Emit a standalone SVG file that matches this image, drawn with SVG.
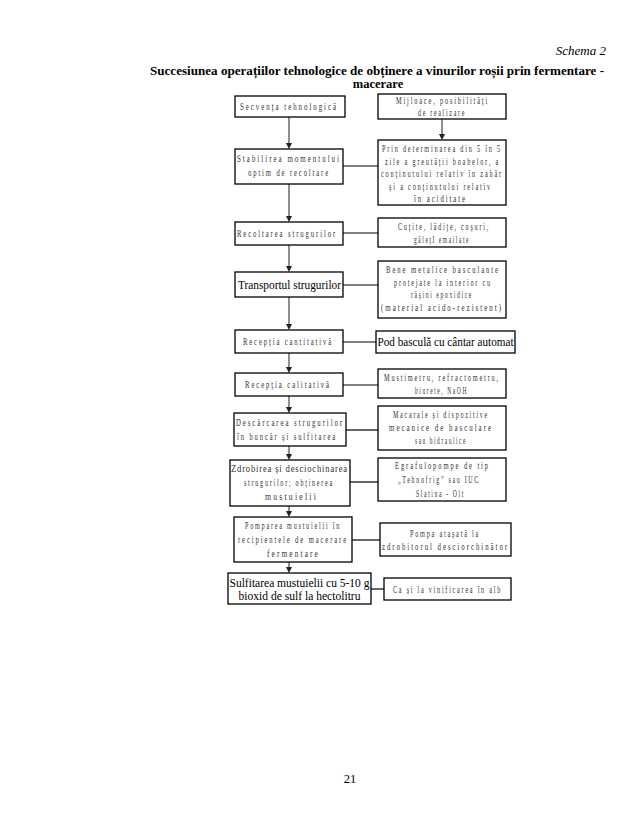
<svg xmlns="http://www.w3.org/2000/svg" width="638" height="826" viewBox="0 0 638 826">
<style>
.bg{fill:#fff}
.box{fill:#fff;stroke:#000;stroke-width:1.3}
.sp{font-family:"Liberation Serif","Times New Roman",serif;font-size:10.5px;letter-spacing:3px;fill:#333}
.sp1{letter-spacing:1px}
.nm{font-family:"Liberation Serif","Times New Roman",serif;font-size:12.5px;fill:#000}
.ttl{font-family:"Liberation Serif","Times New Roman",serif;font-size:12.5px;font-weight:bold;fill:#000}
.it{font-family:"Liberation Serif","Times New Roman",serif;font-size:13px;font-style:italic;fill:#000}
.ln{stroke:#000;stroke-width:1.2;fill:none}
.vl{stroke:#444;stroke-width:1.2;fill:none}
.ah{fill:#222}
</style>
<rect class="bg" x="0" y="0" width="638" height="826"/>

<text class="it" x="606" y="55" text-anchor="end">Schema 2</text>
<text class="ttl" x="150" y="75" textLength="454" lengthAdjust="spacingAndGlyphs">Succesiunea operațiilor tehnologice de obținere a vinurilor roșii prin fermentare -</text>
<text class="ttl" x="378" y="88" text-anchor="middle">macerare</text>

<g id="connectors">
<line class="vl" x1="289" y1="117" x2="289" y2="143"/>
<line class="vl" x1="289" y1="184" x2="289" y2="216"/>
<line class="vl" x1="289" y1="245" x2="289" y2="266"/>
<line class="vl" x1="289" y1="297" x2="289" y2="324"/>
<line class="vl" x1="289" y1="353" x2="289" y2="367"/>
<line class="vl" x1="289" y1="396" x2="289" y2="407"/>
<line class="vl" x1="289" y1="446" x2="289" y2="454"/>
<line class="vl" x1="289" y1="506" x2="289" y2="511"/>
<line class="vl" x1="289" y1="562" x2="289" y2="567"/>
<line class="vl" x1="442" y1="119" x2="442" y2="134"/>
<path class="ah" d="M286,143 L292,143 L289,149 Z"/>
<path class="ah" d="M286,216 L292,216 L289,222 Z"/>
<path class="ah" d="M286,266 L292,266 L289,272 Z"/>
<path class="ah" d="M286,324 L292,324 L289,330 Z"/>
<path class="ah" d="M286,367 L292,367 L289,373 Z"/>
<path class="ah" d="M286,407 L292,407 L289,413 Z"/>
<path class="ah" d="M286,454 L292,454 L289,460 Z"/>
<path class="ah" d="M286,511 L292,511 L289,517 Z"/>
<path class="ah" d="M286,567 L292,567 L289,573 Z"/>
<path class="ah" d="M439,134 L445,134 L442,140 Z"/>
<line class="ln" x1="343" y1="166" x2="378" y2="166"/>
<line class="ln" x1="343" y1="233" x2="378" y2="233"/>
<line class="ln" x1="343" y1="285" x2="378" y2="285"/>
<line class="ln" x1="343" y1="342" x2="376" y2="342"/>
<line class="ln" x1="343" y1="385" x2="378" y2="385"/>
<line class="ln" x1="346" y1="430" x2="378" y2="430"/>
<line class="ln" x1="350" y1="482" x2="378" y2="482"/>
<line class="ln" x1="352" y1="540" x2="380" y2="540"/>
<line class="ln" x1="371" y1="589" x2="384" y2="589"/>
</g>

<g id="n-secventa">
<rect class="box" x="235" y="96" width="110" height="21"/>
<text class="sp" x="240" y="110" textLength="98" lengthAdjust="spacingAndGlyphs">Secvența tehnologică</text>
</g>
<g id="n-stabilirea">
<rect class="box" x="235" y="149" width="108" height="35"/>
<text class="sp" x="237" y="162" textLength="104" lengthAdjust="spacingAndGlyphs">Stabilirea momentului</text>
<text class="sp" x="248" y="176" textLength="82" lengthAdjust="spacingAndGlyphs">optim de recoltare</text>
</g>
<g id="n-recoltarea">
<rect class="box" x="235" y="222" width="108" height="23"/>
<text class="sp" x="237" y="237" textLength="100" lengthAdjust="spacingAndGlyphs">Recoltarea strugurilor</text>
</g>
<g id="n-transportul">
<rect class="box" x="235" y="272" width="108" height="25"/>
<text class="nm" x="238" y="289" textLength="103" lengthAdjust="spacingAndGlyphs">Transportul strugurilor</text>
</g>
<g id="n-receptia-cant">
<rect class="box" x="235" y="330" width="108" height="23"/>
<text class="sp" x="243" y="345" textLength="90" lengthAdjust="spacingAndGlyphs">Recepția cantitativă</text>
</g>
<g id="n-receptia-cal">
<rect class="box" x="235" y="373" width="108" height="23"/>
<text class="sp" x="245" y="388" textLength="86" lengthAdjust="spacingAndGlyphs">Recepția calitativă</text>
</g>
<g id="n-descarcarea">
<rect class="box" x="234" y="413" width="112" height="33"/>
<text class="sp" x="236" y="426" textLength="108" lengthAdjust="spacingAndGlyphs">Descărcarea strugurilor</text>
<text class="sp" x="237" y="440" textLength="100" lengthAdjust="spacingAndGlyphs">în buncăr și sulfitarea</text>
</g>
<g id="n-zdrobirea">
<rect class="box" x="230" y="460" width="120" height="46"/>
<text class="sp sp1" x="231" y="472" textLength="117" lengthAdjust="spacingAndGlyphs">Zdrobirea și desciochinarea</text>
<text class="sp" x="244" y="486" textLength="90" lengthAdjust="spacingAndGlyphs">strugurilor; obținerea</text>
<text class="sp" x="265" y="500" textLength="53" lengthAdjust="spacingAndGlyphs">mustuielii</text>
</g>
<g id="n-pomparea">
<rect class="box" x="234" y="517" width="118" height="45"/>
<text class="sp" x="245" y="529" textLength="96" lengthAdjust="spacingAndGlyphs">Pomparea mustuielii în</text>
<text class="sp" x="238" y="543" textLength="110" lengthAdjust="spacingAndGlyphs">recipientele de macerare</text>
<text class="sp" x="267" y="557" textLength="53" lengthAdjust="spacingAndGlyphs">fermentare</text>
</g>
<g id="n-sulfitarea">
<rect class="box" x="228" y="573" width="143" height="31"/>
<text class="nm" x="229.5" y="587" textLength="140" lengthAdjust="spacingAndGlyphs">Sulfitarea mustuielii cu 5-10 g</text>
<text class="nm" x="238.5" y="600" textLength="122" lengthAdjust="spacingAndGlyphs">bioxid de sulf la hectolitru</text>
</g>

<g id="m-mijloace">
<rect class="box" x="378" y="94" width="128" height="25"/>
<text class="sp" x="396" y="104" textLength="93" lengthAdjust="spacingAndGlyphs">Mijloace, posibilități</text>
<text class="sp" x="418" y="116" textLength="48" lengthAdjust="spacingAndGlyphs">de realizare</text>
</g>
<g id="m-prin">
<rect class="box" x="378" y="140" width="128" height="65"/>
<text class="sp" x="382" y="152" textLength="120" lengthAdjust="spacingAndGlyphs">Prin determinarea din 5 în 5</text>
<text class="sp" x="385" y="165" textLength="115" lengthAdjust="spacingAndGlyphs">zile a greutății boabelor, a</text>
<text class="sp" x="381" y="177" textLength="122" lengthAdjust="spacingAndGlyphs">conținutului relativ în zahăr</text>
<text class="sp" x="389" y="190" textLength="103" lengthAdjust="spacingAndGlyphs">și a conținutului relativ</text>
<text class="sp" x="414" y="202" textLength="53" lengthAdjust="spacingAndGlyphs">în aciditate</text>
</g>
<g id="m-cutite">
<rect class="box" x="378" y="218" width="128" height="29"/>
<text class="sp" x="398" y="230" textLength="92" lengthAdjust="spacingAndGlyphs">Cuțite, lădițe, coșuri,</text>
<text class="sp" x="414" y="243" textLength="56" lengthAdjust="spacingAndGlyphs">gălețI emailate</text>
</g>
<g id="m-bene">
<rect class="box" x="378" y="261" width="128" height="57"/>
<text class="sp" x="386" y="273" textLength="114" lengthAdjust="spacingAndGlyphs">Bene metalice basculante</text>
<text class="sp" x="394" y="286" textLength="98" lengthAdjust="spacingAndGlyphs">protejate la interior cu</text>
<text class="sp" x="411" y="298" textLength="62" lengthAdjust="spacingAndGlyphs">rășini epoxidice</text>
<text class="sp" x="381" y="311" textLength="122" lengthAdjust="spacingAndGlyphs">(material acido-rezistent)</text>
</g>
<g id="m-pod">
<rect class="box" x="376" y="331" width="139" height="22"/>
<text class="nm" x="377.5" y="346" textLength="136" lengthAdjust="spacingAndGlyphs">Pod basculă cu cântar automat</text>
</g>
<g id="m-mustimetru">
<rect class="box" x="378" y="369" width="128" height="29"/>
<text class="sp" x="384" y="381" textLength="116" lengthAdjust="spacingAndGlyphs">Mustimetru, refractometru,</text>
<text class="sp" x="415" y="394" textLength="53" lengthAdjust="spacingAndGlyphs">biurete, NaOH</text>
</g>
<g id="m-macarale">
<rect class="box" x="378" y="406" width="128" height="44"/>
<text class="sp" x="393" y="418" textLength="96" lengthAdjust="spacingAndGlyphs">Macarale și dispozitive</text>
<text class="sp" x="389" y="431" textLength="104" lengthAdjust="spacingAndGlyphs">mecanice de basculare</text>
<text class="sp" x="415" y="444" textLength="52" lengthAdjust="spacingAndGlyphs">sau hidraulice</text>
</g>
<g id="m-egrafulopompe">
<rect class="box" x="378" y="458" width="128" height="43"/>
<text class="sp" x="395" y="469" textLength="95" lengthAdjust="spacingAndGlyphs">Egrafulopompe de tip</text>
<text class="sp" x="398" y="483" textLength="82" lengthAdjust="spacingAndGlyphs">„Tehnofrig” sau IUC</text>
<text class="sp" x="416" y="497" textLength="49" lengthAdjust="spacingAndGlyphs">Slatina - Olt</text>
</g>
<g id="m-pompa">
<rect class="box" x="380" y="523" width="131" height="33"/>
<text class="sp" x="410" y="537" textLength="70" lengthAdjust="spacingAndGlyphs">Pompa atașată la</text>
<text class="sp" x="382" y="550" textLength="127" lengthAdjust="spacingAndGlyphs">zdrobitorul desciorchinător</text>
</g>
<g id="m-ca">
<rect class="box" x="384" y="578" width="127" height="22"/>
<text class="sp" x="393" y="593" textLength="109" lengthAdjust="spacingAndGlyphs">Ca și la vinificarea în alb</text>
</g>

<text class="nm" x="350" y="783" text-anchor="middle">21</text>
</svg>
